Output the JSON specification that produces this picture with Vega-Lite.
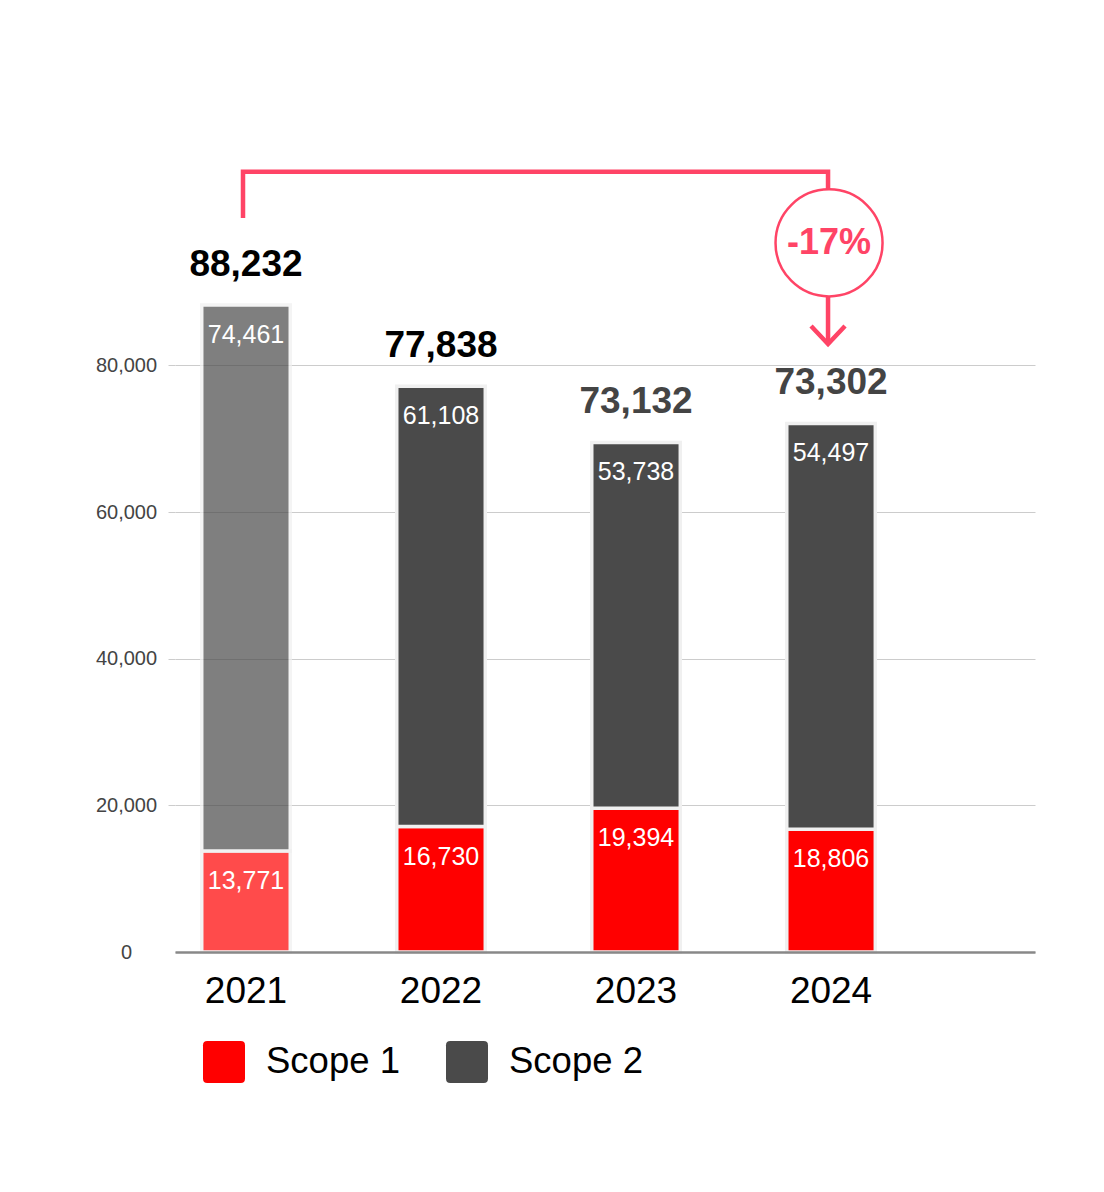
{
  "$schema": "https://vega.github.io/schema/vega-lite/v6.json",
  "width": 860,
  "height": 880,
  "autosize": "none",
  "padding": {"left": 175, "top": 72, "right": 69, "bottom": 240},
  "background": "white",
  "config": {
    "font": "Liberation Sans",
    "view": {"stroke": null}
  },
  "datasets": {
    "segs": [
      {"year": "2021", "scope": "Scope 1", "value": 13771, "label": "13,771", "total": "88,232"},
      {"year": "2021", "scope": "Scope 2", "value": 74461, "label": "74,461", "total": "88,232"},
      {"year": "2022", "scope": "Scope 1", "value": 17100, "label": "16,730", "total": "77,838"},
      {"year": "2022", "scope": "Scope 2", "value": 60050, "label": "61,108", "total": "77,838"},
      {"year": "2023", "scope": "Scope 1", "value": 19600, "label": "19,394", "total": "73,132"},
      {"year": "2023", "scope": "Scope 2", "value": 49880, "label": "53,738", "total": "73,132"},
      {"year": "2024", "scope": "Scope 1", "value": 16730, "label": "18,806", "total": "73,302"},
      {"year": "2024", "scope": "Scope 2", "value": 55340, "label": "54,497", "total": "73,302"}
    ],
    "bracket": [
      {"i": 1, "year": "2021", "v": 100100},
      {"i": 2, "year": "2021", "v": 106400},
      {"i": 3, "year": "2024", "v": 106400},
      {"i": 4, "year": "2024", "v": 82900}
    ],
    "badge": [
      {"year": "2024", "v": 96700, "text": "-17%", "tip": 82900}
    ]
  },
  "layer": [
    {
      "data": {"name": "segs"},
      "transform": [
        {"stack": "value", "groupby": ["year"], "sort": [{"field": "scope", "order": "ascending"}], "as": ["v0", "v1"]}
      ],
      "mark": {"type": "bar", "stroke": "#f0f0f0", "strokeWidth": 3.5},
      "encoding": {
        "x": {
          "field": "year", "type": "nominal",
          "scale": {"paddingInner": 0.546, "paddingOuter": 0.478, "align": 0.1434},
          "axis": {
            "title": null, "labelAngle": 0, "labelFontSize": 37, "labelColor": "#000000",
            "ticks": false, "labelPadding": 21, "domainColor": "#888888", "domainWidth": 2.5,
            "grid": false, "zindex": 1
          }
        },
        "y": {
          "field": "v1", "type": "quantitative",
          "scale": {"domain": [0, 120000], "nice": false},
          "axis": {
            "title": null, "values": [0, 20000, 40000, 60000, 80000], "format": ",d",
            "domain": false, "grid": true, "gridColor": "#cccccc", "gridWidth": 1,
            "tickSize": 7, "tickColor": {"condition": {"test": "datum.value === 0", "value": "transparent"}, "value": "#cccccc"},
            "labelFontSize": 20, "labelColor": "#444444", "labelAlign": "center", "labelBaseline": "middle",
            "labelPadding": 42
          }
        },
        "y2": {"field": "v0"},
        "color": {
          "field": "scope", "type": "nominal",
          "scale": {"domain": ["Scope 1", "Scope 2"], "range": ["#ff0000", "#4a4a4a"]},
          "legend": {
            "title": null, "orient": "none", "legendX": 28, "legendY": 969, "direction": "horizontal",
            "labelFontSize": 36.5, "labelColor": "#000000", "symbolSize": 1764,
            "symbolType": "M-1,-0.8 Q-1,-1 -0.8,-1 L0.8,-1 Q1,-1 1,-0.8 L1,0.8 Q1,1 0.8,1 L-0.8,1 Q-1,1 -1,0.8 Z",
            "symbolStrokeWidth": 0, "symbolOpacity": 1, "labelOffset": 21, "columnPadding": 46
          }
        },
        "opacity": {"condition": {"test": "datum.year === '2021'", "value": 0.7}, "value": 1}
      }
    },
    {
      "data": {"name": "segs"},
      "transform": [
        {"stack": "value", "groupby": ["year"], "sort": [{"field": "scope", "order": "ascending"}], "as": ["v0", "v1"]}
      ],
      "mark": {"type": "text", "color": "#ffffff", "fontSize": 25, "baseline": "middle", "dy": 30},
      "encoding": {
        "x": {"field": "year", "type": "nominal"},
        "y": {"field": "v1", "type": "quantitative"},
        "text": {"field": "label"}
      }
    },
    {
      "data": {"name": "segs"},
      "transform": [
        {"stack": "value", "groupby": ["year"], "sort": [{"field": "scope", "order": "ascending"}], "as": ["v0", "v1"]},
        {"filter": "datum.scope === 'Scope 2'"}
      ],
      "mark": {"type": "text", "fontSize": 37, "fontWeight": "bold", "baseline": "middle", "dy": -40},
      "encoding": {
        "x": {"field": "year", "type": "nominal"},
        "y": {"field": "v1", "type": "quantitative"},
        "text": {"field": "total"},
        "color": {"condition": {"test": "datum.year === '2021' || datum.year === '2022'", "value": "#000000"}, "value": "#444444"}
      }
    },
    {
      "data": {"name": "bracket"},
      "mark": {"type": "line", "color": "#ff4466", "strokeWidth": 4.5, "strokeCap": "butt", "strokeJoin": "miter", "xOffset": -3},
      "encoding": {
        "x": {"field": "year", "type": "nominal"},
        "y": {"field": "v", "type": "quantitative"},
        "order": {"field": "i"}
      }
    },
    {
      "data": {"name": "badge"},
      "mark": {"type": "point", "shape": "M-0.944,-1 L0,0 L0.944,-1", "filled": false, "size": 1296, "stroke": "#ff4466", "strokeWidth": 4.5, "strokeJoin": "miter", "opacity": 1, "xOffset": -3},
      "encoding": {
        "x": {"field": "year", "type": "nominal"},
        "y": {"field": "tip", "type": "quantitative"}
      }
    },
    {
      "data": {"name": "badge"},
      "mark": {"type": "point", "shape": "circle", "filled": true, "fill": "#ffffff", "stroke": "#ff4466", "strokeWidth": 2.5, "size": 11449, "opacity": 1, "fillOpacity": 1, "xOffset": -2},
      "encoding": {
        "x": {"field": "year", "type": "nominal"},
        "y": {"field": "v", "type": "quantitative"}
      }
    },
    {
      "data": {"name": "badge"},
      "mark": {"type": "text", "fontSize": 36, "fontWeight": "bold", "color": "#ff4466", "baseline": "middle", "xOffset": -2},
      "encoding": {
        "x": {"field": "year", "type": "nominal"},
        "y": {"field": "v", "type": "quantitative"},
        "text": {"field": "text"}
      }
    }
  ]
}
